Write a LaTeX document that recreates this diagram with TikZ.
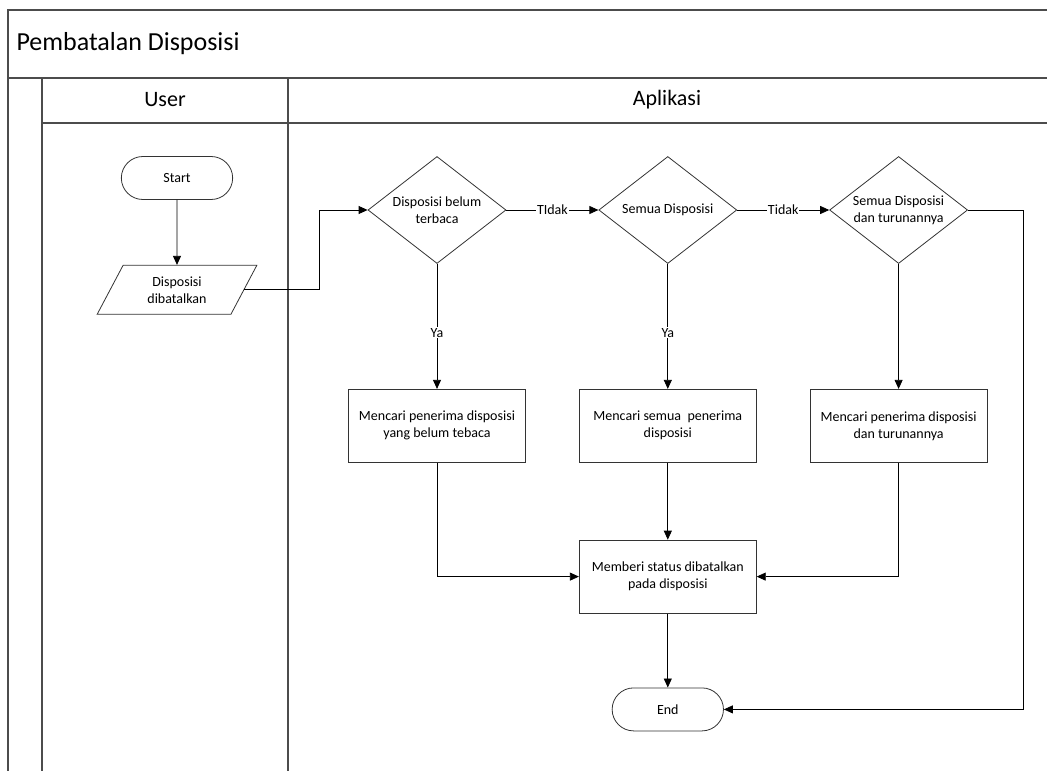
\documentclass[tikz,border=0pt]{standalone}
\usepackage{fontspec}
\setmainfont{Carlito}
\usetikzlibrary{arrows.meta,positioning,shapes.geometric,shapes.misc}

\begin{document}
\begin{tikzpicture}[x=1pt,y=-1pt,
       lane/.style={draw=black!70, line width=1.3pt},
       terminal/.style={
         rounded rectangle,
         draw=black!80,
         line width=0.8pt,
         minimum width=118pt,
         minimum height=43pt,
         font=\fontsize{14}{17}\selectfont},
       inout/.style={
         trapezium,
         trapezium left angle=62,
         trapezium right angle=118,
         trapezium stretches=true,
         draw=black!80,
         line width=0.8pt,
         inner sep=0pt,
         minimum width=160pt,
         minimum height=49pt,
         align=center,
         font=\fontsize{14}{17}\selectfont},
       decision/.style={
         diamond,
         draw=black!80,
         line width=0.8pt,
         inner sep=-14pt,
         minimum width=138pt,
         minimum height=107pt,
         align=center,
         font=\fontsize{14}{17}\selectfont},
       process/.style={
         rectangle,
         draw=black!80,
         line width=0.8pt,
         inner sep=1pt,
         minimum width=177pt,
         minimum height=73pt,
         align=center,
         font=\fontsize{14}{17}\selectfont},
       flow/.style={draw=black, line width=0.8pt, -{Triangle[length=9pt,width=8pt]}},
       lbl/.style={fill=white, inner sep=1pt, font=\fontsize{14}{17}\selectfont},
node distance=92pt and 92pt
      ]
      \useasboundingbox (0,0) rectangle (1047,771);

      % pool and lanes
      \draw[lane] (1050,10) -- (8,10) -- (8,775);
      \draw[lane] (8,78) -- (1050,78);
      \draw[lane] (42,123) -- (1050,123);
      \draw[lane] (42,78) -- (42,775);
      \draw[lane] (288,78) -- (288,775);
      \node[anchor=west, font=\fontsize{26}{30}\selectfont] (title) at (13,44) {Pembatalan Disposisi};
      \node[font=\fontsize{22}{26}\selectfont] (user) at (165,100) {User};
      \node[font=\fontsize{22}{26}\selectfont] (app) at (667,100) {Aplikasi};

      % user lane
      \node[terminal] (start) at (177,178) {Start};
      \node[inout, below = 65pt of start] (disp) {Disposisi\\dibatalkan};

      % aplikasi lane
      \node[decision] (d1) at (437,210) {Disposisi belum\\terbaca};
      \node[decision, right = of d1] (d2) {Semua Disposisi};
      \node[decision, right = of d2] (d3) {Semua Disposisi\\dan turunannya};

      \node[process, below = 125pt of d1] (p1) {Mencari penerima disposisi\\yang belum tebaca};
      \node[process, below = 125pt of d2] (p2) {Mencari semua~ penerima\\disposisi};
      \node[process, below = 125pt of d3] (p3) {Mencari penerima disposisi\\dan turunannya};

      \node[process, below = 77pt of p2] (status) {Memberi status dibatalkan\\pada disposisi};
      \node[terminal, below = 74pt of status] (end) {End};

      % connectors
      \draw[flow] (start) -- (disp);
      \draw[flow] (disp.east) -- ++(75,0) |- (d1.west);
      \draw[flow] (d1.east) -- node[lbl] {TIdak} (d2.west);
      \draw[flow] (d2.east) -- node[lbl] {Tidak} (d3.west);
      \draw[flow] (d1.south) -- node[lbl, pos=0.55] {Ya} (p1.north);
      \draw[flow] (d2.south) -- node[lbl, pos=0.55] {Ya} (p2.north);
      \draw[flow] (d3.south) -- (p3.north);
      \draw[flow] (p1.south) |- (status.west);
      \draw[flow] (p2.south) -- (status.north);
      \draw[flow] (p3.south) |- (status.east);
      \draw[flow] (status.south) -- (end.north);
      \draw[flow] (d3.east) -- ++(55,0) |- (end.east);

\end{tikzpicture}
\end{document}
